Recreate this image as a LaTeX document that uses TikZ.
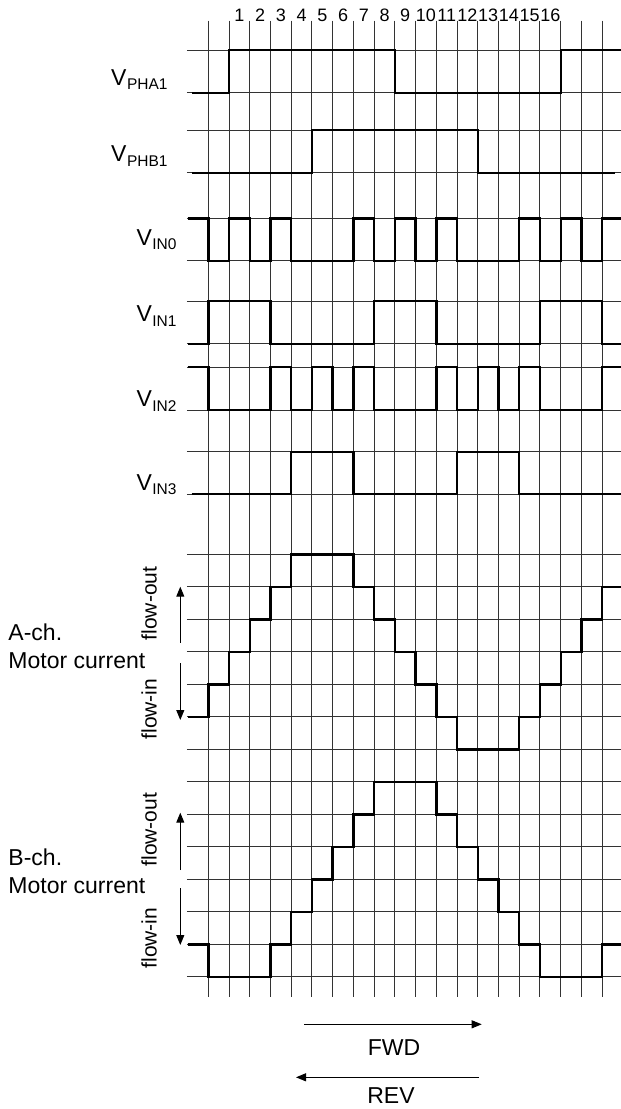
\documentclass[tikz,border=0pt]{standalone}
\usepackage{fontspec}
\setmainfont{Liberation Sans}
\usetikzlibrary{arrows.meta}

\tikzset{
  gridline/.style={black!80, line width=1pt},
  wave/.style={line width=2.4pt, line join=miter},
  bigtext/.style={font=\fontsize{23}{28}\selectfont, inner sep=0pt},
  flowtext/.style={font=\fontsize{21}{24}\selectfont, inner sep=0pt, rotate=90, anchor=base},
  numtext/.style={font=\fontsize{18}{20}\selectfont, inner sep=0pt, anchor=base}
}
\newcommand{\sig}[1]{V\kern0.5pt\raisebox{-4.5pt}{\fontsize{15.5}{16}\selectfont #1}}

\begin{document}
\begin{tikzpicture}[x=1pt, y=-1pt, line width=1pt, >={Triangle[length=10pt,width=8pt]}]
\useasboundingbox (0,0) rectangle (621,1109);

% Time grid
\begin{scope}[shift={(208.3,0)}, x=20.73pt]
\foreach \i in {0,...,19}
  \draw[gridline] (\i,20.7) -- (\i,997);
\foreach \k in {1,...,16}
  \node[numtext] (step\k) at (\k+0.5,21.5) {\k};

% Logic signal levels
\foreach \y in {50,92.7,130,172.7,218.3,260.7,301,343.7,367,410,451.7,494}
  \draw[gridline] (-1.03,\y) -- (19.9,\y);

% Phase inputs
\draw[wave] (-0.8,92.7) -| (1,50) -| (9,92.7) -| (17,50) -- (19.9,50);
\draw[wave] (-0.8,172.7) -| (5,130) -| (13,172.7) -- (19.6,172.7);

% Current level inputs
\draw[wave] (-1,218.3) -| (0,260.7) -| (1,218.3) -| (2,260.7) -| (3,218.3) -| (4,260.7)
  -| (7,218.3) -| (8,260.7) -| (9,218.3) -| (10,260.7) -| (11,218.3) -| (12,260.7)
  -| (15,218.3) -| (16,260.7) -| (17,218.3) -| (18,260.7) -| (19,218.3) -- (19.9,218.3);
\draw[wave] (-1,343.7) -| (0,301) -| (3,343.7) -| (8,301) -| (11,343.7) -| (16,301)
  -| (19,343.7) -- (19.9,343.7);
\draw[wave] (-1,367) -| (0,410) -| (3,367) -| (4,410) -| (5,367) -| (6,410) -| (7,367)
  -| (8,410) -| (11,367) -| (12,410) -| (13,367) -| (14,410) -| (15,367) -| (16,410)
  -| (19,367) -- (19.9,367);
\draw[wave] (-0.8,494) -| (4,451.7) -| (7,494) -| (12,451.7) -| (15,494) -- (19.9,494);

% Motor currents
\begin{scope}[shift={(0,554.3)}, y=-32.5pt]
\foreach \k in {0,...,13}
  \draw[gridline] (-1.03,\k) -- (19.9,\k);
\draw[wave] (-1,5) \foreach \c/\l in {0/4,1/3,2/2,3/1,4/0,7/1,8/2,9/3,10/4,11/5,12/6,
  15/5,16/4,17/3,18/2,19/1} { -| (\c,\l) } -- (19.9,1);
\draw[wave] (-1,12) \foreach \c/\l in {0/13,3/12,4/11,5/10,6/9,7/8,8/7,11/8,12/9,
  13/10,14/11,15/12,16/13,19/12} { -| (\c,\l) } -- (19.9,12);
\end{scope}
\end{scope}

% Signal names
\node[bigtext, anchor=base east] (pha) at (168,85) {\sig{PHA1}};
\node[bigtext, anchor=base east] (phb) at (168,161.7) {\sig{PHB1}};
\node[bigtext, anchor=base east] (in0) at (177,245) {\sig{IN0}};
\node[bigtext, anchor=base east] (in1) at (177,321.7) {\sig{IN1}};
\node[bigtext, anchor=base east] (in2) at (177,406.7) {\sig{IN2}};
\node[bigtext, anchor=base east] (in3) at (177,490) {\sig{IN3}};

% A-ch
\node[bigtext, anchor=base west] (ach) at (8,640) {A-ch.};
\node[bigtext, anchor=base west] (acur) at (8,668) {Motor current};
\node[flowtext] (aout) at (156.7,603.5) {flow-out};
\node[flowtext] (ain) at (156.7,709) {flow-in};
\coordinate (aout0) at (180.3,642.7);
\coordinate (aout1) at (180.3,586.7);
\coordinate (ain0) at (180.3,663.3);
\coordinate (ain1) at (180.3,720);
\draw[->] (aout0) -- (aout1);
\draw[->] (ain0) -- (ain1);

% B-ch
\node[bigtext, anchor=base west] (bch) at (8,865) {B-ch.};
\node[bigtext, anchor=base west] (bcur) at (8,893.3) {Motor current};
\node[flowtext] (bout) at (156.7,829.7) {flow-out};
\node[flowtext] (bin) at (156.7,938) {flow-in};
\coordinate (bout0) at (180.3,870);
\coordinate (bout1) at (180.3,812.7);
\coordinate (bin0) at (180.3,888.3);
\coordinate (bin1) at (180.3,945);
\draw[->] (bout0) -- (bout1);
\draw[->] (bin0) -- (bin1);

% Direction
\coordinate (fwd0) at (304.3,1024.3);
\coordinate (fwd1) at (481.7,1024.3);
\coordinate (rev0) at (479,1077.3);
\coordinate (rev1) at (296,1077.3);
\draw[->] (fwd0) -- (fwd1);
\draw[->] (rev0) -- (rev1);
\node[bigtext, anchor=base] (fwd) at (394,1055) {FWD};
\node[bigtext, anchor=base] (rev) at (391,1103) {REV};

\end{tikzpicture}
\end{document}
